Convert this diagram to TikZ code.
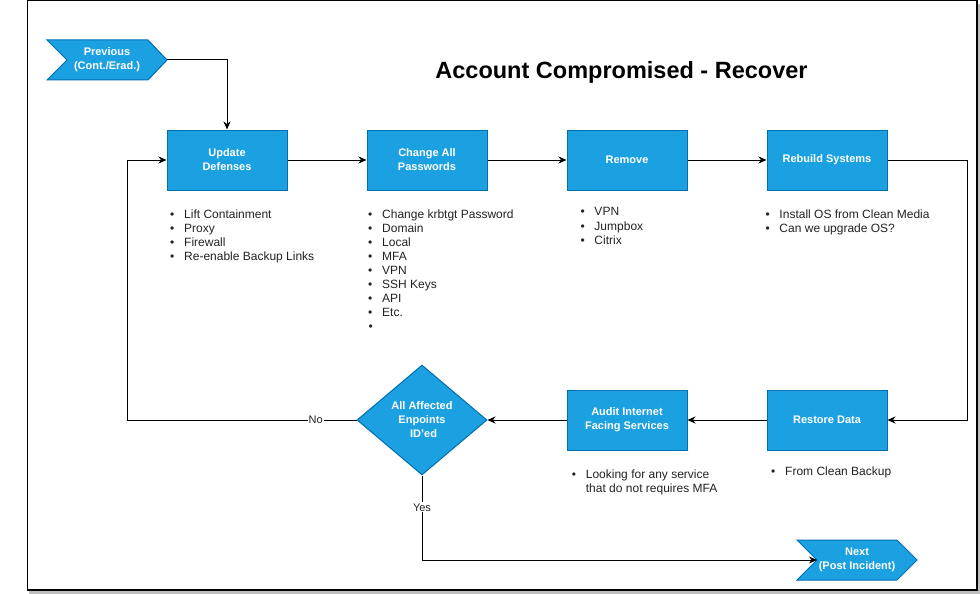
\documentclass[tikz,border=0pt]{standalone}
\usepackage{fontspec}
\setmainfont{Liberation Sans}
\usetikzlibrary{arrows.meta,shapes.geometric}
\definecolor{boxblue}{HTML}{1BA1E2}
\definecolor{boxline}{HTML}{006EAF}
\definecolor{txt}{HTML}{222222}
\definecolor{shadowgray}{HTML}{BFBFBF}
\begin{document}
\begin{tikzpicture}[x=1pt,y=-1pt,
  box/.style={draw=boxline, fill=boxblue, line width=1pt, minimum width=120pt, minimum height=60pt,
    inner sep=0pt, text=white, font=\bfseries\fontsize{11}{14}\selectfont, align=center},
  decbox/.style={diamond, draw=boxline, fill=boxblue, line width=1pt, minimum width=130pt, minimum height=110pt,
    inner sep=0pt, text=white, font=\bfseries\fontsize{11}{14}\selectfont, align=center},
  stepshape/.style={draw=boxline, fill=boxblue, line width=1pt},
  steptext/.style={inner sep=0pt, text=white, font=\bfseries\fontsize{11}{14}\selectfont, align=center},
  item/.style={anchor=base west, inner sep=0pt, text=txt, font=\fontsize{12}{14}\selectfont},
  conn/.style={draw=black, line width=1pt, -{Stealth[length=8pt,width=7pt,inset=2.5pt]}},
  lbl/.style={fill=white, inner sep=1pt, text=txt, font=\fontsize{11}{13}\selectfont},
]
\useasboundingbox (0,0) rectangle (980,594);
% frame with shadow
\fill[shadowgray] (978.2,4) rectangle (980,594);
\fill[shadowgray] (29,591) rectangle (980,594);
\draw[line width=1.5pt] (27.5,0.75) rectangle (977,590.2);

% title
\node[anchor=base, inner sep=0pt, text=black, font=\bfseries\fontsize{23.5}{28}\selectfont] (title) at (621.5,78.5) {Account Compromised - Recover};

% previous step shape
\draw[stepshape] (47,40) -- (148,40) -- (167,60) coordinate (prevtip) -- (148,80) -- (47,80) -- (67,60) -- cycle;
\node[steptext] (prev) at (107,60) {Previous\\(Cont./Erad.)};

% next step shape
\draw[stepshape] (797,540) -- (897,540) -- (917,560) -- (897,580) -- (797,580) -- (817,560) coordinate (nextnotch) -- cycle;
\node[steptext] (next) at (857,560) {Next\\(Post Incident)};

% boxes
\node[box] (upd) at (227,160) {Update\\Defenses};
\node[box] (chg) at (427,160) {Change All\\Passwords};
\node[box] (rem) at (627,160) {Remove};
\node[box] (reb) at (827,160) {Rebuild Systems};
\node[box] (res) at (827,420) {Restore Data};
\node[box] (aud) at (627,420) {Audit Internet\\Facing Services};
\node[decbox] (dec) at (422,420) {All Affected\\Enpoints\\\ ID'ed};

% bullet lists
\newcommand\bul{\llap{\textbullet\hspace{9.8pt}}}
\foreach \t [count=\i] in {Lift Containment, Proxy, Firewall, Re-enable Backup Links}
  \node[item] (ul\i) at (184,{218.5+14*(\i-1)}) {\bul\t};
\foreach \t [count=\i] in {Change krbtgt Password, Domain, Local, MFA, VPN, SSH Keys, API, Etc., {}}
  \node[item] (cl\i) at (382,{218.5+14*(\i-1)}) {\bul\t};
\foreach \t [count=\i] in {VPN, Jumpbox, Citrix}
  \node[item] (rl\i) at (594.3,{215.8+14.3*(\i-1)}) {\bul\t};
\foreach \t [count=\i] in {Install OS from Clean Media, Can we upgrade OS?}
  \node[item] (bl\i) at (779.3,{218.5+14*(\i-1)}) {\bul\t};
\node[item] (al1) at (585.7,478.5) {\bul Looking for any service};
\node[item] (al2) at (585.7,492.5) {that do not requires MFA};
\node[item] (sl1) at (785,475) {\bul From Clean Backup};

% connector corner points
\coordinate (rc) at (967,160);
\coordinate (nc) at (127,420);
\coordinate (yc) at (422,560);

% connectors
\draw[conn] (prevtip) -| (upd.north);
\draw[conn] (upd.east) -- (chg.west);
\draw[conn] (chg.east) -- (rem.west);
\draw[conn] (rem.east) -- (reb.west);
\draw[conn] (reb.east) -- (rc) |- (res.east);
\draw[conn] (res.west) -- (aud.east);
\draw[conn] (aud.west) -- (dec.east);
\draw[conn] (dec.west) -- node[lbl, pos=0.178] (nolbl) {No} (nc) |- (upd.west);
\draw[conn] (dec.south) -- node[lbl, pos=0.376] (yeslbl) {Yes} (yc) -- (nextnotch);
\end{tikzpicture}
\end{document}
